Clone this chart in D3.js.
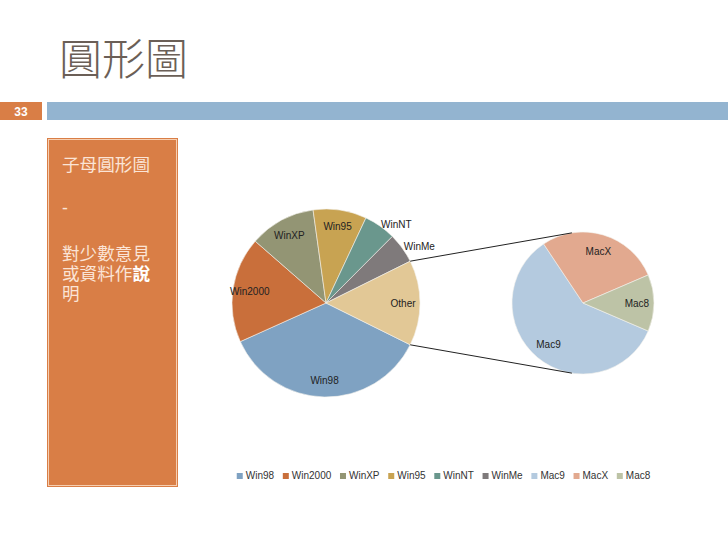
<!DOCTYPE html>
<html>
<head>
<meta charset="utf-8">
<script src="https://cdn.jsdelivr.net/npm/d3@7"></script>
<style>
  html, body { margin: 0; padding: 0; background: #ffffff; }
  svg { display: block; }
</style>
</head>
<body>
<svg id="chart" width="728" height="546"></svg>
<script>
// ---------- data ----------
const mainCategories = ["Win98", "Win2000", "WinXP", "Win95", "WinNT", "WinMe"];
const mainValues     = [36.0, 18.2, 11.4, 9.2, 5.5, 5.2];
const subCategories  = ["Mac9", "MacX", "Mac8"];
const subValues      = [8.7, 4.1, 1.9];
const otherLabel     = "Other";
const legendLabels   = ["Win98", "Win2000", "WinXP", "Win95", "WinNT", "WinMe", "Mac9", "MacX", "Mac8"];
const titleText      = "圓形圖";
const slideNumber    = "33";
const sideLines      = ["子母圓形圖", "-", "對少數意見", "或資料作說", "明"];

// ---------- styles ----------
const colorMap = {
  Win98: "#7fa2c2", Win2000: "#c96f3b", WinXP: "#939574", Win95: "#c8a352",
  WinNT: "#6a978d", WinMe: "#7f7a7b", Other: "#e2c896",
  Mac9: "#b4cadf", MacX: "#e2a98f", Mac8: "#bdc3a6"
};
const orange = "#d97e46";
const blue = "#93b4d0";
const latin = "'Liberation Sans', Arial, sans-serif";
const cjk = "'Noto Sans CJK TC', 'Noto Sans CJK SC', sans-serif";
const sideFont = "'Liberation Sans', 'Noto Sans CJK TC', 'Noto Sans CJK SC', sans-serif";

const svg = d3.select("#chart");

// ---------- slide decorations ----------
svg.append("text")
  .attr("x", 59).attr("y", 75)
  .attr("font-family", cjk).attr("font-weight", 300)
  .attr("font-size", 43).attr("fill", "#6b5f57")
  .text(titleText);

svg.append("rect").attr("x", 0).attr("y", 102).attr("width", 42).attr("height", 18).attr("fill", orange);
svg.append("text").attr("x", 21).attr("y", 115.5).attr("text-anchor", "middle")
  .attr("font-family", latin).attr("font-weight", "bold").attr("font-size", 12)
  .attr("fill", "#ffffff").text(slideNumber);
svg.append("rect").attr("x", 47).attr("y", 102).attr("width", 681).attr("height", 18).attr("fill", blue);

// side panel
svg.append("rect").attr("x", 47).attr("y", 138).attr("width", 131).attr("height", 349).attr("fill", orange);
svg.append("rect").attr("x", 48.5).attr("y", 139.5).attr("width", 128).attr("height", 346)
  .attr("fill", "none").attr("stroke", "#f7cfb1").attr("stroke-width", 1);

const sideBaselines = [171, 214, 260, 280, 300];
const sideText = svg.append("g").attr("font-family", sideFont).attr("font-size", 17.6).attr("fill", "#fbe4d6");
sideLines.forEach((line, i) => {
  const t = sideText.append("text").attr("x", 62).attr("y", sideBaselines[i]);
  if (line === "或資料作說") {
    t.append("tspan").text("或資料作");
    t.append("tspan").attr("font-weight", "bold").attr("fill", "#ffffff").text("說");
  } else {
    t.text(line);
  }
});

// ---------- main pie ----------
const deg = Math.PI / 180;
const mainCx = 326, mainCy = 303, mainR = 94;
const subCx = 583, subCy = 303, subR = 71;

const otherValue = d3.sum(subValues);
const mainData = mainCategories.map((c, i) => ({ name: c, value: mainValues[i] }))
  .concat([{ name: otherLabel, value: otherValue }]);
const mainTotal = d3.sum(mainData, d => d.value);
const otherFrac = otherValue / mainTotal;
const mainStart = 90 * deg + otherFrac * Math.PI;   // "Other" centred at 3 o'clock

const mainPie = d3.pie().sort(null).value(d => d.value)
  .startAngle(mainStart).endAngle(mainStart + 2 * Math.PI);
const mainArcs = mainPie(mainData);
const arcGen = d3.arc().innerRadius(0);

const gMain = svg.append("g").attr("transform", `translate(${mainCx},${mainCy})`);
gMain.selectAll("path").data(mainArcs).join("path")
  .attr("d", d => arcGen.outerRadius(mainR)(d))
  .attr("fill", d => colorMap[d.data.name])
  .attr("stroke", "#f4f1ec").attr("stroke-width", 0.6);

gMain.selectAll("text").data(mainArcs).join("text")
  .each(function(d) {
    const frac = d.value / mainTotal;
    const mid = (d.startAngle + d.endAngle) / 2;
    const outside = frac < 0.06;
    const rr = outside ? mainR * 1.02 : mainR * 0.82;
    d3.select(this)
      .attr("x", rr * Math.sin(mid))
      .attr("y", -rr * Math.cos(mid))
      .attr("text-anchor", outside ? "start" : "middle");
  })
  .attr("dy", "0.35em")
  .attr("font-family", latin).attr("font-size", 10).attr("fill", "#222")
  .text(d => d.data.name);

// ---------- secondary pie ----------
const subData = subCategories.map((c, i) => ({ name: c, value: subValues[i] }));
const subTotal = d3.sum(subValues);
const lastFrac = subValues[subValues.length - 1] / subTotal;
const subStart = 90 * deg + lastFrac * Math.PI;
const subPie = d3.pie().sort(null).value(d => d.value)
  .startAngle(subStart).endAngle(subStart + 2 * Math.PI);
const subArcs = subPie(subData);

const gSub = svg.append("g").attr("transform", `translate(${subCx},${subCy})`);
gSub.selectAll("path").data(subArcs).join("path")
  .attr("d", d => arcGen.outerRadius(subR)(d))
  .attr("fill", d => colorMap[d.data.name])
  .attr("stroke", "#f4f1ec").attr("stroke-width", 0.6);

gSub.selectAll("text").data(subArcs).join("text")
  .attr("x", d => subR * 0.76 * Math.sin((d.startAngle + d.endAngle) / 2))
  .attr("y", d => -subR * 0.76 * Math.cos((d.startAngle + d.endAngle) / 2))
  .attr("dy", "0.35em").attr("text-anchor", "middle")
  .attr("font-family", latin).attr("font-size", 10).attr("fill", "#222")
  .text(d => d.data.name);

// ---------- connector lines ----------
const otherArc = mainArcs[mainArcs.length - 1];
const pt = (cx, cy, r, a) => [cx + r * Math.sin(a), cy - r * Math.cos(a)];
const p1 = pt(mainCx, mainCy, mainR, otherArc.startAngle);
const p2 = pt(mainCx, mainCy, mainR, otherArc.endAngle);
const q1 = pt(subCx, subCy, subR, -9 * deg);
const q2 = pt(subCx, subCy, subR, 189 * deg);
svg.append("line").attr("x1", p1[0]).attr("y1", p1[1]).attr("x2", q1[0]).attr("y2", q1[1])
  .attr("stroke", "#222").attr("stroke-width", 1);
svg.append("line").attr("x1", p2[0]).attr("y1", p2[1]).attr("x2", q2[0]).attr("y2", q2[1])
  .attr("stroke", "#222").attr("stroke-width", 1);

// ---------- legend ----------
const legend = svg.append("g").attr("font-family", latin).attr("font-size", 10).attr("fill", "#333");
const items = legend.selectAll("g").data(legendLabels).join("g");
items.append("rect").attr("width", 6).attr("height", 6).attr("y", -6)
  .attr("fill", d => colorMap[d]);
items.append("text").attr("x", 9).attr("y", 0).text(d => d);
let xpos = 0;
const gap = 8.7;
items.each(function() {
  const w = d3.select(this).select("text").node().getComputedTextLength();
  d3.select(this).attr("transform", `translate(${xpos},0)`);
  xpos += 9 + w + gap;
});
const legendWidth = xpos - gap;
legend.attr("transform", `translate(${443.5 - legendWidth / 2},479)`);
</script>
</body>
</html>
